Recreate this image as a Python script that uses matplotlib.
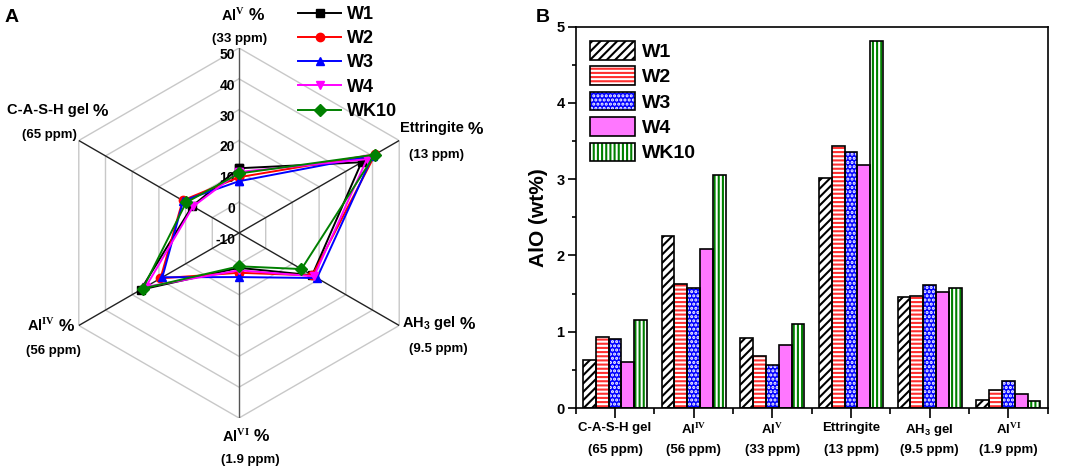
import numpy as np
import matplotlib
matplotlib.use('Agg')
import matplotlib.pyplot as plt
import matplotlib.transforms as mtransforms
from matplotlib.legend_handler import HandlerTuple
from matplotlib.ticker import MultipleLocator, FixedLocator

plt.rcParams['font.family'] = ['Liberation Sans', 'DejaVu Sans']
plt.rcParams['font.weight'] = 'bold'
plt.rcParams['mathtext.fontset'] = 'custom'
plt.rcParams['mathtext.rm'] = 'Liberation Serif'
plt.rcParams['mathtext.sf'] = 'Liberation Sans:bold'
plt.rcParams['mathtext.bf'] = 'Liberation Sans:bold'
plt.rcParams['hatch.linewidth'] = 1.5

# ---------------- data ----------------
series = ['W1', 'W2', 'W3', 'W4', 'WK10']

# radar (panel A): axis order clockwise from top
radar_names = ['Al$^{\\mathrm{V}}$', 'Ettringite', 'AH$_{\\mathsf{3}}$ gel',
               'Al$^{\\mathrm{VI}}$', 'Al$^{\\mathrm{IV}}$', 'C-A-S-H gel']
radar_ppm = ['(33 ppm)', '(13 ppm)', '(9.5 ppm)', '(1.9 ppm)', '(56 ppm)', '(65 ppm)']
radar_ticks = [-10, 0, 10, 20, 30, 40, 50]
radar_W1 = [11.0, 35.9, 17.4, 1.3, 26.8, 7.5]
radar_W2 = [8.1, 41.0, 17.5, 2.9, 19.4, 11.1]
radar_W3 = [6.8, 40.1, 19.2, 4.3, 18.7, 10.9]
radar_W4 = [9.8, 37.9, 18.1, 2.1, 24.9, 7.2]
radar_WK10 = [9.3, 40.8, 13.4, 0.8, 26.0, 9.8]

# bars (panel B)
bar_names = ['C-A-S-H gel', 'Al$^{\\mathrm{IV}}$', 'Al$^{\\mathrm{V}}$', 'Ettringite',
             'AH$_{\\mathsf{3}}$ gel', 'Al$^{\\mathrm{VI}}$']
bar_ppm = ['(65 ppm)', '(56 ppm)', '(33 ppm)', '(13 ppm)', '(9.5 ppm)', '(1.9 ppm)']
bar_W1 = [0.63, 2.25, 0.92, 3.01, 1.46, 0.11]
bar_W2 = [0.93, 1.63, 0.68, 3.44, 1.47, 0.24]
bar_W3 = [0.91, 1.57, 0.57, 3.36, 1.61, 0.36]
bar_W4 = [0.60, 2.09, 0.82, 3.18, 1.52, 0.18]
bar_WK10 = [1.15, 3.06, 1.10, 4.81, 1.58, 0.09]

radar_data = [radar_W1, radar_W2, radar_W3, radar_W4, radar_WK10]
bar_data = [bar_W1, bar_W2, bar_W3, bar_W4, bar_WK10]

# ---------------- styles ----------------
line_colors = ['black', '#FF0000', '#0000FF', '#FF00FF', '#008000']
markers = ['s', 'o', '^', 'v', 'D']

fig = plt.figure(figsize=(10.65, 4.7), dpi=100)

# ---------------- panel A: radar ----------------
axr = fig.add_axes([54 / 1065, 52 / 470, 370 / 1065, 370 / 470], projection='polar')
axr.set_theta_zero_location('N')
axr.set_theta_direction(-1)
axr.set_ylim(radar_ticks[0], radar_ticks[-1])
axr.grid(False)
axr.set_xticks([])
axr.set_yticks([])
axr.spines['polar'].set_visible(False)

n = len(radar_names)
theta = np.arange(n) * 2 * np.pi / n
theta_c = np.append(theta, theta[0])

for v in radar_ticks[1:]:
    axr.plot(theta_c, [v] * (n + 1), color='#c8c8c8', lw=1.0, zorder=1)
for i, t in enumerate(theta):
    col = '#555555' if i in (0, 3) else '#222222'
    axr.plot([t, t], [radar_ticks[0], radar_ticks[-1]], color=col, lw=1.0, zorder=2)

off = mtransforms.offset_copy(axr.transData, fig=fig, x=-4, y=-7, units='dots')
for v in radar_ticks:
    axr.text(0, v, str(v), transform=off, ha='right', va='center',
             fontsize=10, fontweight='bold', zorder=3)

for vals, lab, c, m in zip(radar_data, series, line_colors, markers):
    vv = list(vals) + [vals[0]]
    axr.plot(theta_c, vv, color=c, marker=m, markersize=6, lw=1.4,
             label=lab, zorder=5, clip_on=False)

# axis labels: (name offset, name ha), (ppm offset)
name_off = [(-6, 33, 'center'), (1, 12, 'left'), (3, 2, 'left'),
            (-3, -18, 'center'), (-24, 0, 'right'), (-31, 30, 'center')]
ppm_off = [(1, 9), (37, -15), (39, -24), (11, -42), (-25, -25), (-29, 5)]
for i in range(n):
    dx, dy, ha = name_off[i]
    nt = axr.annotate(radar_names[i], xy=(theta[i], radar_ticks[-1]), xytext=(dx, dy),
                      textcoords='offset pixels', ha=ha, va='center', fontsize=10.5,
                      fontweight='bold', annotation_clip=False)
    axr.annotate('%', xy=(1, 0.45), xycoords=nt, xytext=(4, 0),
                 textcoords='offset pixels', ha='left', va='center', fontsize=12.5,
                 fontweight='bold', annotation_clip=False)
    px, py = ppm_off[i]
    axr.annotate(radar_ppm[i], xy=(theta[i], radar_ticks[-1]), xytext=(px, py),
                 textcoords='offset pixels', ha='center', va='center', fontsize=9.5,
                 fontweight='bold', annotation_clip=False)

leg = axr.legend(loc='upper left', bbox_to_anchor=(298 / 1065, 1 - 6 / 470),
                 bbox_transform=fig.transFigure, frameon=False, fontsize=13,
                 handlelength=2.4, handletextpad=0.3, labelspacing=0.4,
                 borderpad=0, borderaxespad=0)
for t in leg.get_texts():
    t.set_fontweight('bold')

fig.text(5 / 1065, 1 - 17 / 470, 'A', fontsize=14, fontweight='bold', va='center')
fig.text(536 / 1065, 1 - 17 / 470, 'B', fontsize=14, fontweight='bold', va='center')

# ---------------- panel B: bars ----------------
axb = fig.add_axes([575.7 / 1065, 62 / 470, 472 / 1065, 381.3 / 470])
x = np.arange(len(bar_names))
w = 0.163
face = ['white', 'white', '#0000FF', '#FF77FF', 'white']
hatch_col = ['black', '#FF3030', 'white', '#FF77FF', '#008000']
hatches = ['////', '----', '....', '', '||||']
handles = []
for k, vals in enumerate(bar_data):
    pos = x + (k - 2) * w
    b1 = axb.bar(pos, vals, w, color=face[k], edgecolor=hatch_col[k], hatch=hatches[k],
                 linewidth=0, zorder=2)
    b2 = axb.bar(pos, vals, w, fill=False, edgecolor='black', linewidth=1.2, zorder=3)
    handles.append((b1[0], b2[0]))

axb.set_xlim(-0.5, len(bar_names) - 0.5)
axb.set_ylim(0, 5)
axb.yaxis.set_major_locator(MultipleLocator(1))
axb.yaxis.set_minor_locator(MultipleLocator(0.5))
axb.set_xticks(x)
axb.set_xticklabels(bar_names, fontsize=9.5, fontweight='bold')
axb.xaxis.set_minor_locator(FixedLocator(np.arange(len(bar_names) + 1) - 0.5))
axb.tick_params(axis='x', which='major', direction='out', length=7, width=1.2, pad=3)
axb.tick_params(axis='x', which='minor', direction='out', length=4, width=1.2)
axb.tick_params(axis='y', which='major', direction='out', length=6, width=1.2,
                labelsize=10.5, pad=2)
axb.tick_params(axis='y', which='minor', direction='out', length=3, width=1.2)
for lab in axb.get_yticklabels():
    lab.set_fontweight('bold')
for s in axb.spines.values():
    s.set_linewidth(1.2)
axb.set_ylabel('AlO (wt%)', fontsize=15, fontweight='bold', labelpad=6)

tb = mtransforms.blended_transform_factory(axb.transData, axb.transAxes)
for i, p in enumerate(bar_ppm):
    axb.text(x[i], -0.11, p, transform=tb, ha='center', va='center',
             fontsize=9.5, fontweight='bold')

legb = axb.legend(handles, series, handler_map={tuple: HandlerTuple(ndivide=1, pad=0)},
                  loc='upper left', bbox_to_anchor=(590 / 1065, 1 - 41 / 470),
                  bbox_transform=fig.transFigure, frameon=False, fontsize=14,
                  handlelength=2.3, handleheight=1.1, handletextpad=0.35,
                  labelspacing=0.28, borderpad=0, borderaxespad=0)
for t in legb.get_texts():
    t.set_fontweight('bold')

fig.savefig('out.png', dpi=100)
